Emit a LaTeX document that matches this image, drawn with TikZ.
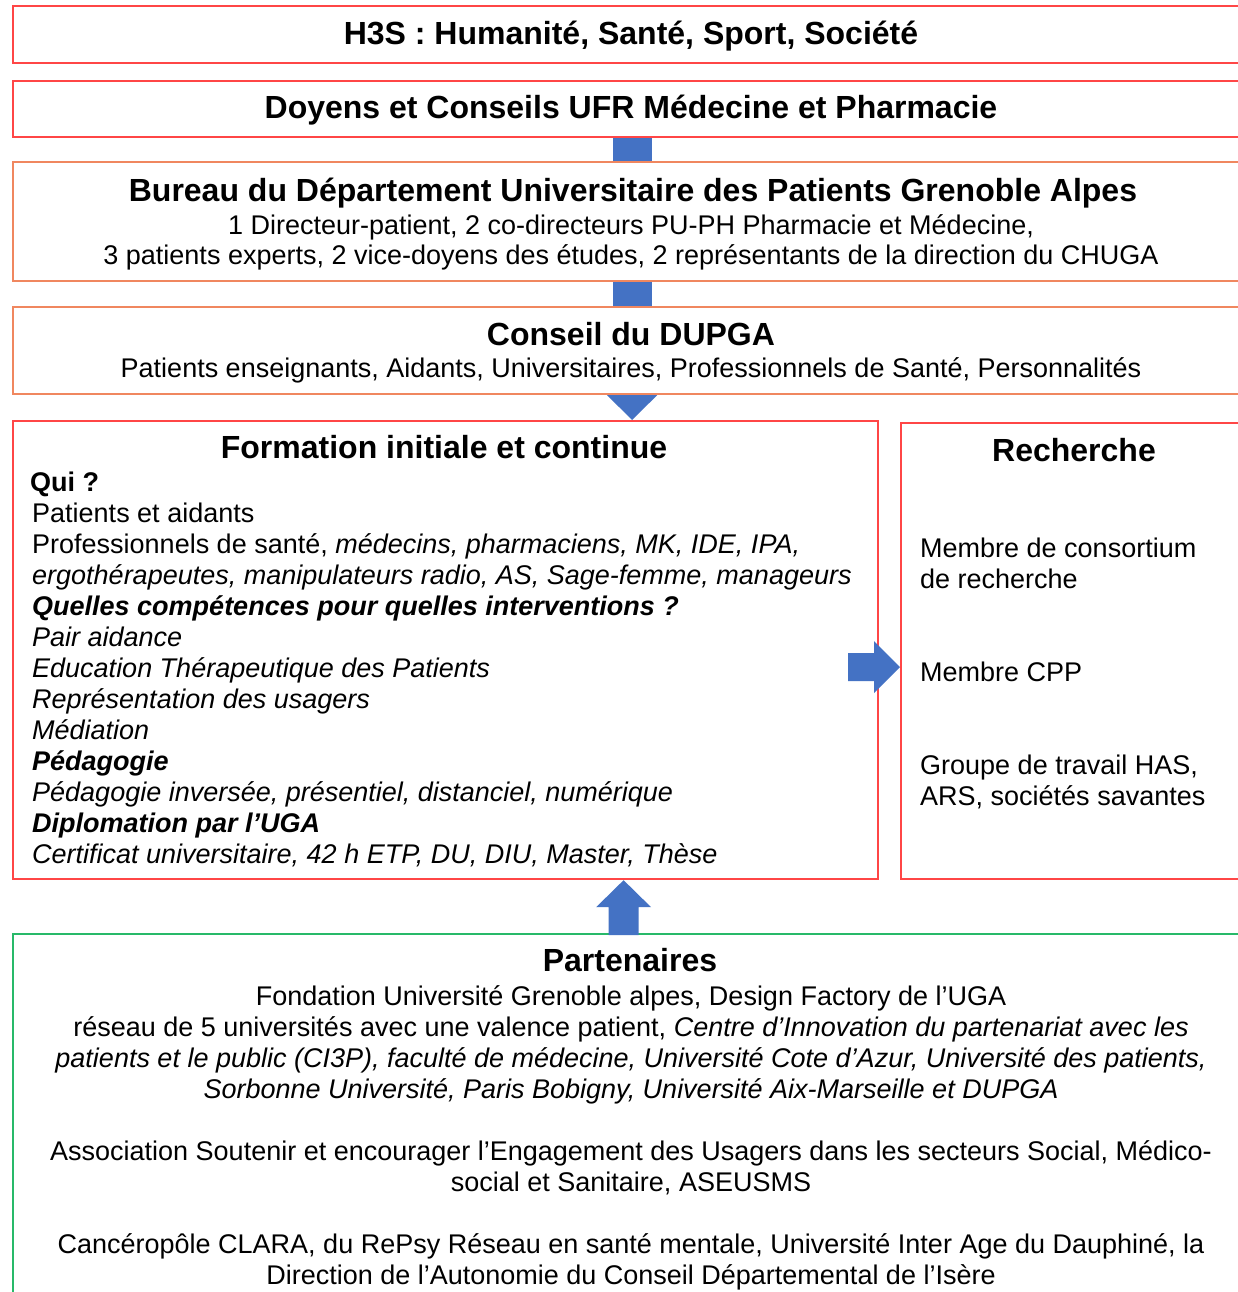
\documentclass[tikz,border=0pt]{standalone}
\usepackage{fontspec}
\setmainfont{Liberation Sans}
\usetikzlibrary{calc}
\definecolor{boxred}{RGB}{255,70,70}
\definecolor{boxorange}{RGB}{240,135,95}
\definecolor{boxgreen}{RGB}{40,185,105}
\definecolor{arrowblue}{RGB}{68,114,196}
\begin{document}
\begin{tikzpicture}[x=1pt,y=-1pt,
  box/.style={draw, line width=2.2pt, anchor=north west, inner sep=0pt},
  hd/.style={font=\fontsize{32}{37}\selectfont\bfseries, anchor=base, inner sep=0pt},
  tx/.style={font=\fontsize{27}{31}\selectfont, anchor=base, inner sep=0pt},
  txl/.style={tx, anchor=base west},
  conn/.style={draw=arrowblue, line width=39pt},
]
\useasboundingbox (0,0) rectangle (1238,1292);
\clip (0,0) rectangle (1238,1292);
\fill[white] (0,0) rectangle (1238,1292);

% boxes
\node[box, draw=boxred, minimum width=1238pt, minimum height=57pt] (h3s) at (12,5) {};
\node[box, draw=boxred, minimum width=1238pt, minimum height=56pt] (doyens) at (12,80) {};
\node[box, draw=boxorange, minimum width=1238pt, minimum height=119pt] (bureau) at (12,161) {};
\node[box, draw=boxorange, minimum width=1238pt, minimum height=87pt] (conseil) at (12,306) {};
\node[box, draw=boxred, minimum width=865pt, minimum height=458pt] (formation) at (12,420) {};
\node[box, draw=boxred, minimum width=350pt, minimum height=456pt] (recherche) at (900,422) {};
\node[box, draw=boxgreen, minimum width=1238pt, minimum height=370pt] (partners) at (12,933) {};

% connectors
\draw[conn] (doyens.south) -- (bureau.north);
\draw[conn] (bureau.south) -- (conseil.north);
\fill[arrowblue] ($(conseil.south)+(-25,0)$) -- ($(conseil.south)+(25,0)$) -- (conseil.south |- formation.north) -- cycle;
\coordinate (tipR) at ($(recherche.west)+(0,16)$);
\fill[arrowblue] (tipR) -- ++(-26,-26) -- ++(0,12) -- ++(-26,0) -- ++(0,28) -- ++(26,0) -- ++(0,12) -- cycle;
\coordinate (tipU) at ($(formation.south)+(178,0)$);
\fill[arrowblue] (tipU) -- ++(27.5,27) -- ++(-12.5,0) -- ++(0,28) -- ++(-30,0) -- ++(0,-28) -- ++(-12.5,0) -- cycle;

% top texts
\node[hd] (t1) at (631,44.5) {H3S : Humanité, Santé, Sport, Société};
\node[hd] (t2) at (631,118.5) {Doyens et Conseils UFR Médecine et Pharmacie};
\node[hd] (b0) at (633,201.5) {Bureau du Département Universitaire des Patients Grenoble Alpes};
\node[tx] (b1) at (631,234.5) {1 Directeur-patient, 2 co-directeurs PU-PH Pharmacie et Médecine,};
\node[tx] (b2) at (631,264.5) {3 patients experts, 2 vice-doyens des études, 2 représentants de la direction du CHUGA};
\node[hd] (c0) at (631,345.5) {Conseil du DUPGA};
\node[tx] (c1) at (631,377.7) {Patients enseignants, Aidants, Universitaires, Professionnels de Santé, Personnalités};

% formation
\node[hd] (f0) at (444,458.5) {Formation initiale et continue};
\node[txl, font=\fontsize{27}{31}\selectfont\bfseries] (f1) at (30,491) {Qui ?};
\node[txl] (f2) at (32,522) {Patients et aidants};
\node[txl] (f3) at (32,553) {Professionnels de santé, \itshape médecins, pharmaciens, MK, IDE, IPA,};
\node[txl, font=\fontsize{27}{31}\selectfont\itshape] (f4) at (32,584) {ergothérapeutes, manipulateurs radio, AS, Sage-femme, manageurs};
\node[txl, font=\fontsize{27}{31}\selectfont\bfseries\itshape] (f5) at (32,615) {Quelles compétences pour quelles interventions ?};
\node[txl, font=\fontsize{27}{31}\selectfont\itshape] (f6) at (32,646) {Pair aidance};
\node[txl, font=\fontsize{27}{31}\selectfont\itshape] (f7) at (32,677) {Education Thérapeutique des Patients};
\node[txl, font=\fontsize{27}{31}\selectfont\itshape] (f8) at (32,708) {Représentation des usagers};
\node[txl, font=\fontsize{27}{31}\selectfont\itshape] (f9) at (32,739) {Médiation};
\node[txl, font=\fontsize{27}{31}\selectfont\bfseries\itshape] (f10) at (32,770) {Pédagogie};
\node[txl, font=\fontsize{27}{31}\selectfont\itshape] (f11) at (32,801) {Pédagogie inversée, présentiel, distanciel, numérique};
\node[txl, font=\fontsize{27}{31}\selectfont\bfseries\itshape] (f12) at (32,832) {Diplomation par l’UGA};
\node[txl, font=\fontsize{27}{31}\selectfont\itshape] (f13) at (32,863) {Certificat universitaire, 42 h ETP, DU, DIU, Master, Thèse};

% recherche
\node[hd] (r0) at (1074,461.5) {Recherche};
\node[txl] (r1) at (920,557) {Membre de consortium};
\node[txl] (r2) at (920,588) {de recherche};
\node[txl] (r3) at (920,681) {Membre CPP};
\node[txl] (r4) at (920,774) {Groupe de travail HAS,};
\node[txl] (r5) at (920,805) {ARS, sociétés savantes};

% partenaires
\node[hd] (p0) at (630,971.5) {Partenaires};
\node[tx] (p1) at (631,1005) {Fondation Université Grenoble alpes, Design Factory de l’UGA};
\node[tx] (p2) at (631,1036) {réseau de 5 universités avec une valence patient, \itshape Centre d’Innovation du partenariat avec les};
\node[tx, font=\fontsize{27}{31}\selectfont\itshape] (p3) at (631,1067) {patients et le public (CI3P), faculté de médecine, Université Cote d’Azur, Université des patients,};
\node[tx, font=\fontsize{27}{31}\selectfont\itshape] (p4) at (631,1098) {Sorbonne Université, Paris Bobigny, Université Aix-Marseille et DUPGA};
\node[tx] (p5) at (631,1160) {Association Soutenir et encourager l’Engagement des Usagers dans les secteurs Social, Médico-};
\node[tx] (p6) at (631,1191) {social et Sanitaire, ASEUSMS};
\node[tx] (p7) at (631,1253) {Cancéropôle CLARA, du RePsy Réseau en santé mentale, Université Inter Age du Dauphiné, la};
\node[tx] (p8) at (631,1284) {Direction de l’Autonomie du Conseil Départemental de l’Isère};
\end{tikzpicture}
\end{document}
